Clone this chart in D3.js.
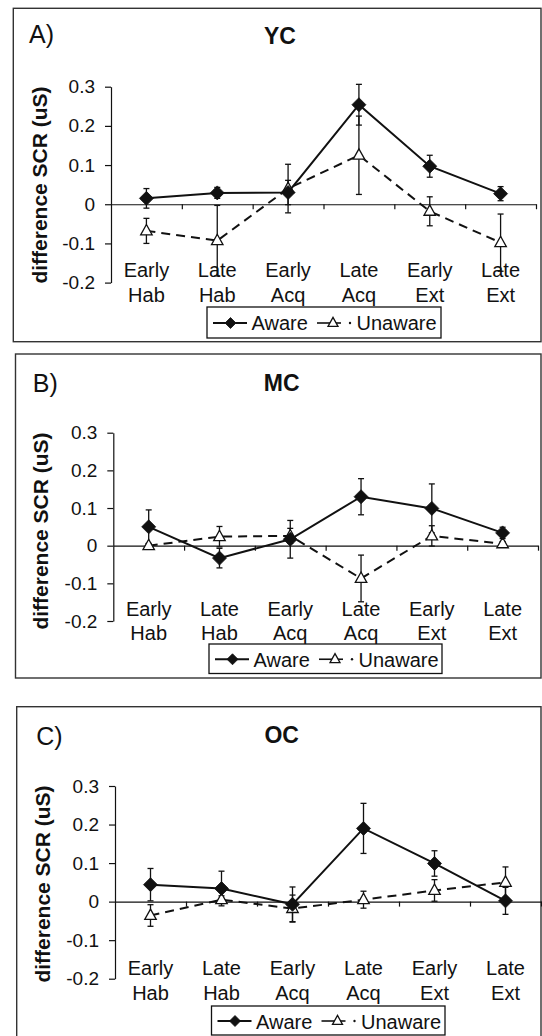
<!DOCTYPE html>
<html>
<head>
<meta charset="utf-8">
<script src="https://cdn.jsdelivr.net/npm/d3@7"></script>
<style>
  html, body { margin: 0; padding: 0; background: #fff; }
  svg { display: block; }
  text { font-family: "Liberation Sans", Arial, Helvetica, sans-serif; fill: #111; }
</style>
</head>
<body>
<svg id="chart" width="542" height="1036"></svg>
<script>
// ---------- data ----------
const categories = ["Early Hab", "Late Hab", "Early Acq", "Late Acq", "Early Ext", "Late Ext"];
const catLine1 = ["Early", "Late", "Early", "Late", "Early", "Late"];
const catLine2 = ["Hab", "Hab", "Acq", "Acq", "Ext", "Ext"];
const yTicks = [-0.2, -0.1, 0, 0.1, 0.2, 0.3];
const yTickLabels = ["-0.2", "-0.1", "0", "0.1", "0.2", "0.3"];
const seriesNames = ["Aware", "Unaware"];

const ycAware      = [0.015, 0.029, 0.030, 0.254, 0.097, 0.027];
const ycAwareErr   = [0.025, 0.014, 0.031, 0.052, 0.028, 0.018];
const ycUnaware    = [-0.068, -0.093, 0.040, 0.125, -0.018, -0.098];
const ycUnawareErr = [0.032, 0.090, 0.062, 0.100, 0.037, 0.073];

const mcAware      = [0.050, -0.033, 0.017, 0.130, 0.099, 0.034];
const mcAwareErr   = [0.045, 0.026, 0.050, 0.048, 0.065, 0.015];
const mcUnaware    = [0.000, 0.024, 0.026, -0.087, 0.026, 0.005];
const mcUnawareErr = [0.006, 0.027, 0.020, 0.062, 0.027, 0.006];

const ocAware      = [0.044, 0.034, -0.007, 0.190, 0.099, 0.002];
const ocAwareErr   = [0.042, 0.045, 0.045, 0.065, 0.033, 0.035];
const ocUnaware    = [-0.036, 0.005, -0.018, 0.005, 0.029, 0.050];
const ocUnawareErr = [0.028, 0.010, 0.035, 0.022, 0.028, 0.040];

const yAxisTitle = "difference SCR (uS)";

// ---------- layout (per panel) ----------
const panels = [
  { tag: "A)", title: "YC", aware: ycAware, awareErr: ycAwareErr, un: ycUnaware, unErr: ycUnawareErr,
    frame: [13.3, 8.3, 541, 341.7], ax: [111, 536], yr: [282.6, 86.7],
    tagPos: [29, 43.3], titlePos: [280, 43.5], yTitlePos: [46.5, 185], xlab: [276.7, 301.7],
    legend: [207, 307, 234, 31] },
  { tag: "B)", title: "MC", aware: mcAware, awareErr: mcAwareErr, un: mcUnaware, unErr: mcUnawareErr,
    frame: [15.5, 354, 541, 678], ax: [113.3, 538], yr: [621, 432.7],
    tagPos: [32.8, 392], titlePos: [281.7, 390.5], yTitlePos: [48, 531], xlab: [616, 639.5],
    legend: [209, 644, 233, 29.5] },
  { tag: "C)", title: "OC", aware: ocAware, awareErr: ocAwareErr, un: ocUnaware, unErr: ocUnawareErr,
    frame: [16.7, 706.7, 541, 1060], ax: [115, 541], yr: [978.7, 786],
    tagPos: [36.3, 745], titlePos: [281.7, 742.5], yTitlePos: [49.5, 884], xlab: [975, 1000],
    legend: [211.5, 1006, 233.5, 29] }
];

const svg = d3.select("#chart");
const ink = "#111";

function diamond(g, cx, cy, r) {
  g.append("path")
    .attr("d", `M${cx},${cy - r}L${cx + r},${cy}L${cx},${cy + r}L${cx - r},${cy}Z`)
    .attr("fill", ink).attr("stroke", ink).attr("stroke-width", 0.8);
}
function triangle(g, cx, cy, s) {
  const h = s * 0.9;
  g.append("path")
    .attr("d", `M${cx},${cy - h * 0.62}L${cx + s / 2},${cy + h * 0.38}L${cx - s / 2},${cy + h * 0.38}Z`)
    .attr("fill", "#fff").attr("stroke", ink).attr("stroke-width", 1.3);
}

panels.forEach(p => {
  const g = svg.append("g");
  const [fx0, fy0, fx1, fy1] = p.frame;
  g.append("rect").attr("x", fx0).attr("y", fy0).attr("width", fx1 - fx0).attr("height", fy1 - fy0)
    .attr("fill", "none").attr("stroke", "#333").attr("stroke-width", 1.4);

  const x = d3.scaleBand().domain(categories).range(p.ax);
  const y = d3.scaleLinear().domain([-0.2, 0.3]).range(p.yr);
  const xb = d3.scaleLinear().domain([0, categories.length]).range(p.ax);
  const cx = c => x(c) + x.bandwidth() / 2;

  // panel tag and title
  g.append("text").attr("x", p.tagPos[0]).attr("y", p.tagPos[1]).attr("font-size", 25).text(p.tag);
  g.append("text").attr("x", p.titlePos[0]).attr("y", p.titlePos[1]).attr("text-anchor", "middle")
    .attr("font-size", 23).attr("font-weight", "bold").text(p.title);

  // y axis
  const yAxis = d3.axisLeft(y).tickValues(yTicks).tickSize(6).tickSizeOuter(0).tickPadding(10)
    .tickFormat((d, i) => yTickLabels[i]);
  const ya = g.append("g").attr("transform", `translate(${p.ax[0]},0)`).call(yAxis);
  ya.selectAll("path, line").attr("stroke", ink).attr("stroke-width", 1.2);
  ya.selectAll("text").attr("font-size", 19).attr("fill", ink).attr("font-family", "Liberation Sans, Arial, sans-serif");

  // y axis title
  g.append("text").attr("transform", `translate(${p.yTitlePos[0]},${p.yTitlePos[1]}) rotate(-90)`)
    .attr("text-anchor", "middle").attr("font-size", 21).attr("font-weight", "bold").text(yAxisTitle);

  // x axis at zero
  const xAxis = d3.axisBottom(xb).tickValues(d3.range(1, categories.length + 1)).tickSize(5)
    .tickSizeOuter(0).tickFormat("");
  const xa = g.append("g").attr("transform", `translate(0,${y(0)})`).call(xAxis);
  xa.selectAll("path, line").attr("stroke", ink).attr("stroke-width", 1.2);

  // category labels
  categories.forEach((c, i) => {
    g.append("text").attr("x", cx(c)).attr("y", p.xlab[0]).attr("text-anchor", "middle")
      .attr("font-size", 20).text(catLine1[i]);
    g.append("text").attr("x", cx(c)).attr("y", p.xlab[1]).attr("text-anchor", "middle")
      .attr("font-size", 20).text(catLine2[i]);
  });

  // error bars
  function errBars(vals, errs) {
    categories.forEach((c, i) => {
      const X = cx(c), t = y(vals[i] + errs[i]), b = y(vals[i] - errs[i]);
      g.append("line").attr("x1", X).attr("x2", X).attr("y1", t).attr("y2", b)
        .attr("stroke", ink).attr("stroke-width", 1.3);
      [t, b].forEach(yy => g.append("line").attr("x1", X - 3).attr("x2", X + 3).attr("y1", yy).attr("y2", yy)
        .attr("stroke", ink).attr("stroke-width", 1.3));
    });
  }
  errBars(p.un, p.unErr);
  errBars(p.aware, p.awareErr);

  const line = d3.line().x((d, i) => cx(categories[i])).y(d => y(d));
  g.append("path").datum(p.un).attr("d", line).attr("fill", "none").attr("stroke", ink)
    .attr("stroke-width", 2).attr("stroke-dasharray", "9,6");
  p.un.forEach((v, i) => triangle(g, cx(categories[i]), y(v), 11.5));
  g.append("path").datum(p.aware).attr("d", line).attr("fill", "none").attr("stroke", ink)
    .attr("stroke-width", 2);
  p.aware.forEach((v, i) => diamond(g, cx(categories[i]), y(v), 7));

  // legend
  const [lx, ly, lw, lh] = p.legend;
  g.append("rect").attr("x", lx).attr("y", ly).attr("width", lw).attr("height", lh)
    .attr("fill", "#fff").attr("stroke", ink).attr("stroke-width", 1.3);
  const lc = ly + lh / 2 + 0.5;
  g.append("line").attr("x1", lx + 6).attr("x2", lx + 40).attr("y1", lc).attr("y2", lc)
    .attr("stroke", ink).attr("stroke-width", 1.8);
  diamond(g, lx + 23.5, lc, 5.5);
  g.append("text").attr("x", lx + 44.5).attr("y", ly + 23).attr("font-size", 20).text(seriesNames[0]);
  g.append("line").attr("x1", lx + 110).attr("x2", lx + 134).attr("y1", lc).attr("y2", lc)
    .attr("stroke", ink).attr("stroke-width", 1.6);
  triangle(g, lx + 126, lc, 10);
  g.append("circle").attr("cx", lx + 143).attr("cy", lc).attr("r", 1.2).attr("fill", ink);
  g.append("text").attr("x", lx + 149.5).attr("y", ly + 23).attr("font-size", 20).text(seriesNames[1]);
});
</script>
</body>
</html>
